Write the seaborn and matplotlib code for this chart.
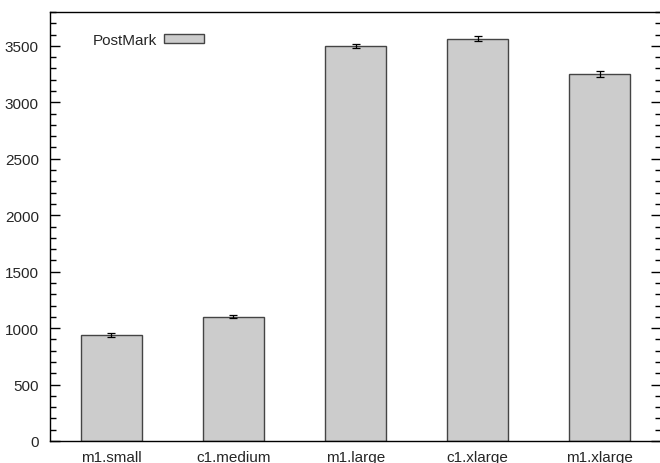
import matplotlib
matplotlib.use("Agg")
import matplotlib.pyplot as plt
import seaborn as sns
import pandas as pd
from matplotlib.ticker import MultipleLocator
from matplotlib.patches import Patch

# Instance types and PostMark results (mean and spread)
instances = ["m1.small", "c1.medium", "m1.large", "c1.xlarge", "m1.xlarge"]
postmark = [940, 1102, 3500, 3563, 3250]
postmark_err = [20, 15, 20, 22, 25]

sns.set_theme(style="white")
plt.rcParams["font.family"] = ["Liberation Sans", "DejaVu Sans"]

df = pd.DataFrame({"instance": instances, "postmark": postmark})

fig = plt.figure(figsize=(6.6, 4.64), dpi=100)
ax = fig.add_axes([50 / 660, 22 / 464, 611 / 660, 429 / 464])

sns.barplot(data=df, x="instance", y="postmark", order=instances,
            color="#cccccc", width=0.5, edgecolor="#444444", linewidth=1.0,
            errorbar=None, saturation=1, ax=ax)

ax.errorbar(range(len(instances)), postmark, yerr=postmark_err, fmt="none",
            ecolor="black", elinewidth=0.9, capsize=3, capthick=0.9)

ax.set_xlim(-0.5, len(instances) - 0.5)
ax.set_ylim(0, 3800)
ax.yaxis.set_major_locator(MultipleLocator(500))
ax.yaxis.set_minor_locator(MultipleLocator(100))
ax.tick_params(axis="y", which="major", direction="in", length=7, width=1,
               left=True, right=True, labelsize=11, color="black", pad=8)
ax.tick_params(axis="y", which="minor", direction="in", length=4, width=1,
               left=True, right=True, color="black")
ax.tick_params(axis="x", which="both", bottom=False, top=False,
               labelsize=11, pad=0.5)
ax.set_xlabel("")
ax.set_ylabel("")
for s in ax.spines.values():
    s.set_color("black")
    s.set_linewidth(1.0)
    s.set_visible(True)

handle = Patch(facecolor="#cccccc", edgecolor="#444444", linewidth=1.0)
leg = ax.legend([handle], ["PostMark"], loc="center left",
                bbox_to_anchor=(0.057, 0.935), frameon=False, markerfirst=False,
                handlelength=2.6, handleheight=0.5, handletextpad=0.5,
                borderpad=0, fontsize=11)

fig.savefig("out.png", dpi=100)
